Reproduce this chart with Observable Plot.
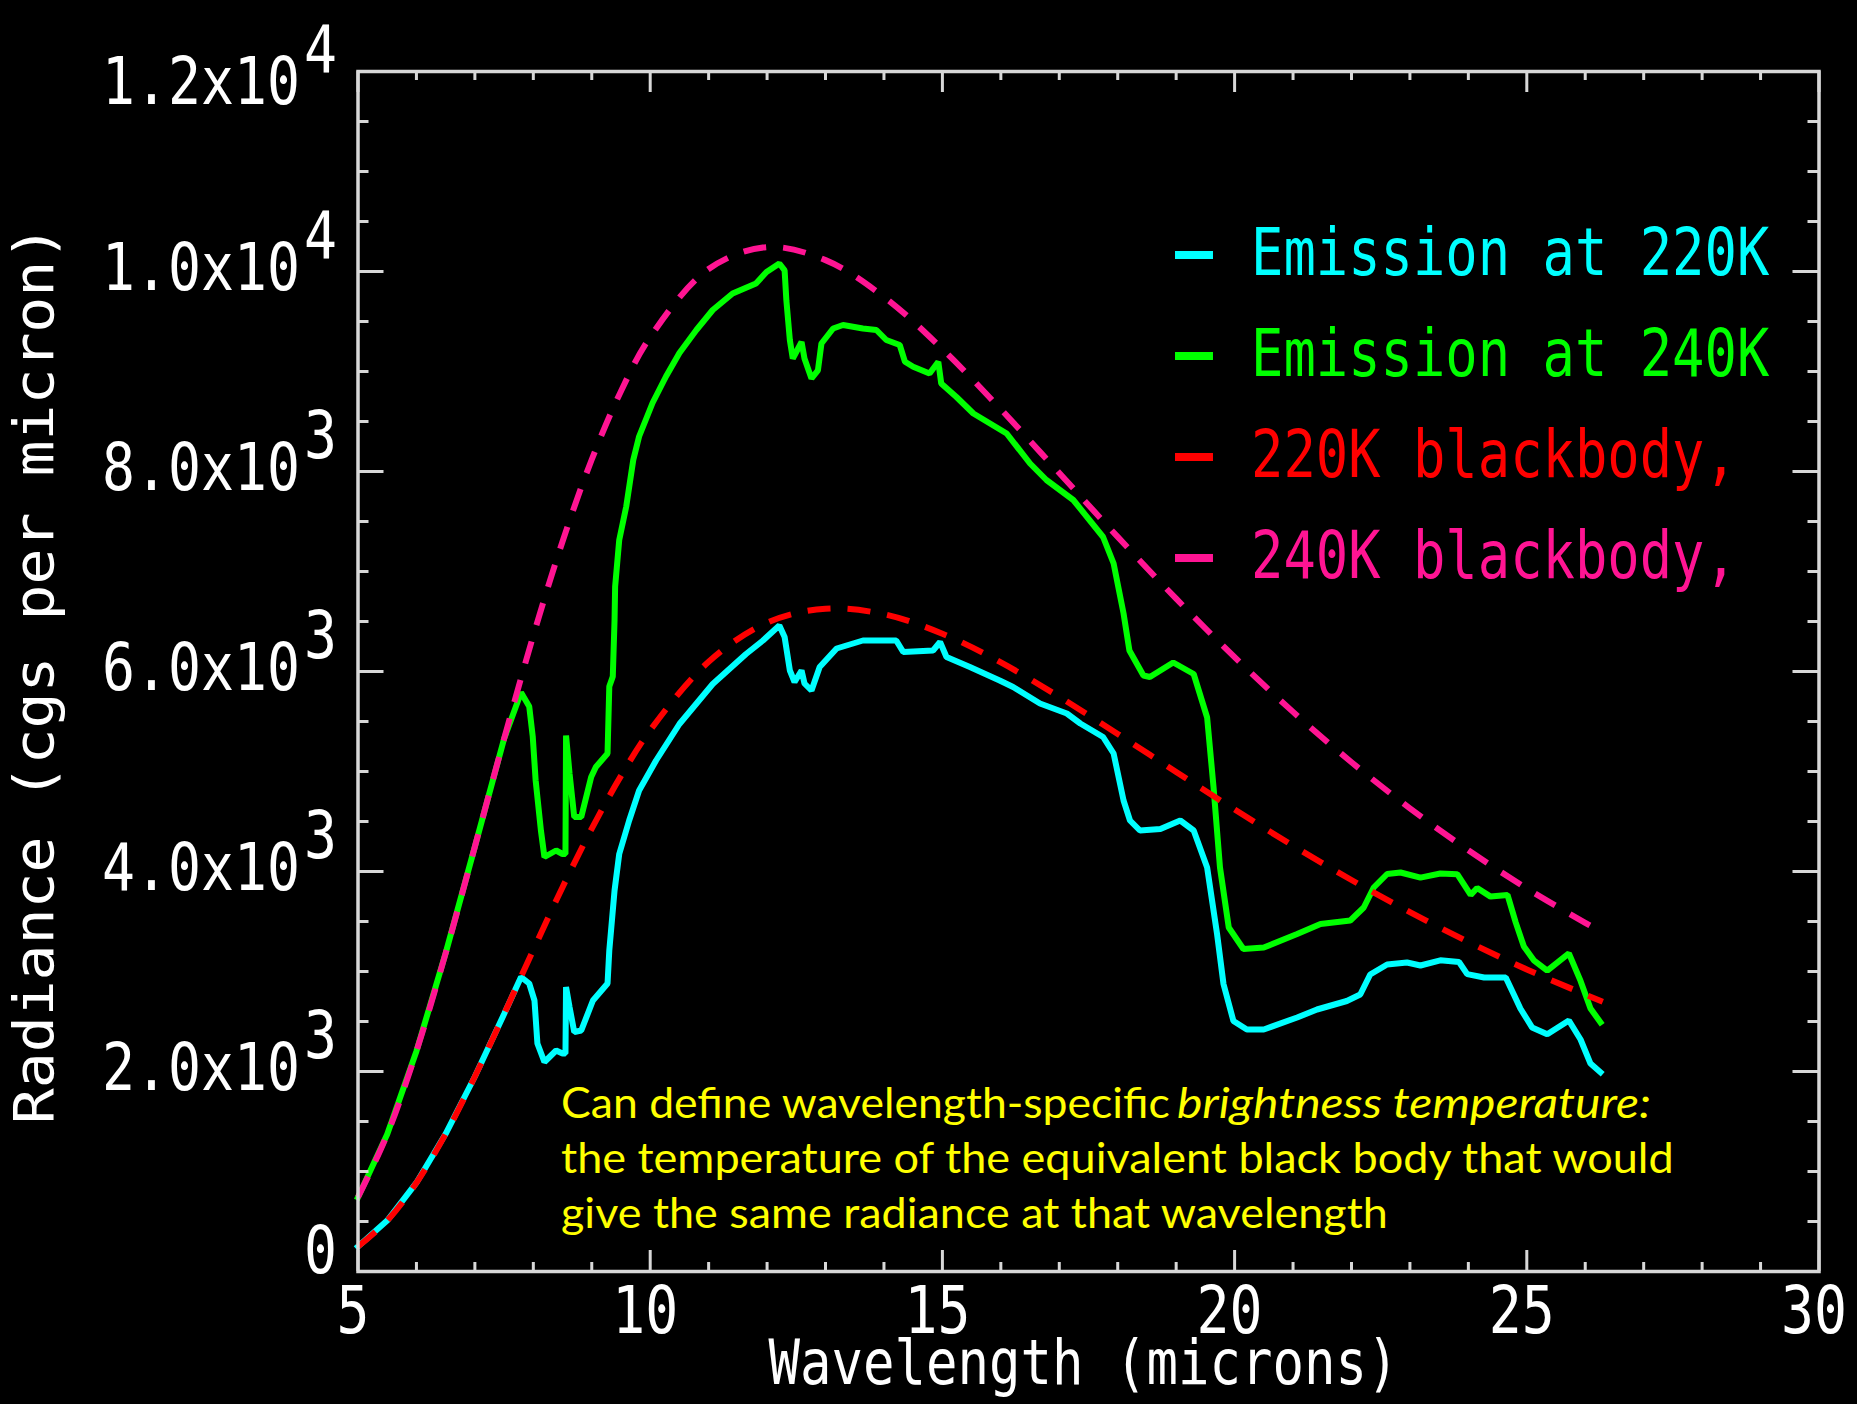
<!DOCTYPE html>
<html>
<head>
<meta charset="utf-8">
<title>Radiance vs wavelength</title>
<script src="https://cdn.jsdelivr.net/npm/d3@7"></script>
<script src="https://cdn.jsdelivr.net/npm/@observablehq/plot@0.6"></script>
<style>
  html, body { margin: 0; padding: 0; background: #000; }
  #chart { width: 1857px; height: 1404px; overflow: hidden; }
  #chart svg { display: block; }
</style>
</head>
<body>
<div id="chart"></div>
<script>
// ---------------- data ----------------
// Blackbody radiance (cgs per micron) on a wavelength grid (microns)
const bbWavelength = [5, 5.5, 6, 6.5, 7, 7.5, 8, 8.5, 9, 9.5, 10, 11, 12, 13, 14, 15, 16, 17, 18, 19, 20, 21, 22, 23, 24, 25, 26, 26.3];
const bb220K = [250, 509, 888, 1377, 1950, 2575, 3217, 3843, 4429, 4956, 5413, 6097, 6489, 6628, 6573, 6378, 6091, 5747, 5376, 4995, 4620, 4258, 3915, 3594, 3296, 3021, 2770, 2698];
const bb240K = [743, 1372, 2203, 3184, 4249, 5327, 6359, 7300, 8120, 8803, 9345, 10025, 10244, 10114, 9746, 9224, 8622, 7985, 7346, 6728, 6143, 5596, 5093, 4632, 4212, 3831, 3487, 3390];

// Emission spectrum at 220K
const em220Wavelength = [5, 5.5, 6, 6.5, 7, 7.5, 7.79, 7.93, 8.02, 8.07, 8.19, 8.39, 8.50, 8.55, 8.56, 8.62, 8.70, 8.82, 9.02, 9.27, 9.30, 9.39, 9.47, 9.64, 9.81, 10.10, 10.50, 11.07, 11.64, 11.93, 12.21, 12.30, 12.39, 12.47, 12.59, 12.64, 12.76, 12.90, 13.19, 13.64, 14.21, 14.33, 14.84, 14.96, 15.07, 15.47, 15.98, 16.21, 16.67, 17.13, 17.36, 17.75, 17.93, 18.10, 18.21, 18.38, 18.73, 19.07, 19.30, 19.53, 19.70, 19.81, 19.98, 20.21, 20.50, 21.07, 21.41, 21.92, 22.15, 22.32, 22.61, 22.95, 23.18, 23.52, 23.84, 23.98, 24.27, 24.64, 24.78, 24.89, 25.09, 25.35, 25.72, 25.92, 26.09, 26.26];
const em220K = [250, 509, 888, 1377, 1950, 2575, 2945, 2880, 2710, 2280, 2095, 2210, 2180, 2180, 2845, 2645, 2395, 2410, 2710, 2880, 3210, 3810, 4175, 4510, 4810, 5110, 5475, 5875, 6175, 6310, 6460, 6345, 6010, 5895, 6010, 5880, 5810, 6045, 6230, 6310, 6310, 6195, 6210, 6295, 6145, 6045, 5910, 5845, 5680, 5580, 5480, 5345, 5180, 4710, 4510, 4410, 4425, 4510, 4410, 4040, 3375, 2875, 2505, 2420, 2420, 2540, 2620, 2705, 2770, 2970, 3070, 3090, 3060, 3112, 3095, 2974, 2940, 2940, 2768, 2630, 2441, 2372, 2510, 2320, 2079, 1993];

// Emission spectrum at 240K
const em240Wavelength = [5, 5.5, 6, 6.5, 7, 7.5, 7.79, 7.93, 7.99, 8.04, 8.13, 8.19, 8.39, 8.50, 8.55, 8.56, 8.62, 8.70, 8.82, 8.99, 9.07, 9.27, 9.30, 9.36, 9.39, 9.40, 9.47, 9.59, 9.71, 9.81, 10.04, 10.27, 10.50, 10.79, 11.07, 11.41, 11.81, 11.99, 12.21, 12.30, 12.33, 12.39, 12.44, 12.59, 12.64, 12.76, 12.87, 12.93, 13.13, 13.30, 13.64, 13.87, 14.04, 14.27, 14.36, 14.50, 14.78, 14.93, 14.98, 15.24, 15.53, 16.10, 16.50, 16.78, 17.24, 17.75, 17.93, 18.10, 18.20, 18.44, 18.55, 18.95, 19.30, 19.53, 19.64, 19.75, 19.90, 20.15, 20.50, 21.07, 21.47, 21.98, 22.21, 22.38, 22.61, 22.84, 23.18, 23.52, 23.81, 24.04, 24.15, 24.38, 24.67, 24.81, 24.95, 25.12, 25.35, 25.72, 25.92, 26.09, 26.26];
const em240K = [743, 1372, 2203, 3184, 4249, 5327, 5790, 5650, 5350, 4910, 4410, 4145, 4210, 4175, 4175, 5360, 4980, 4545, 4545, 4945, 5045, 5180, 5850, 5950, 6515, 6850, 7315, 7650, 8115, 8350, 8685, 8950, 9185, 9415, 9615, 9780, 9880, 9995, 10080, 10012, 9712, 9312, 9130, 9295, 9130, 8930, 9012, 9280, 9430, 9465, 9430, 9415, 9315, 9265, 9097, 9047, 8980, 9097, 8880, 8745, 8580, 8380, 8080, 7915, 7715, 7345, 7080, 6580, 6210, 5960, 5945, 6090, 5975, 5540, 4840, 4040, 3440, 3225, 3240, 3375, 3475, 3510, 3640, 3840, 3975, 3990, 3939, 3980, 3973, 3766, 3835, 3749, 3766, 3491, 3250, 3112, 3009, 3181, 2906, 2630, 2492];

// Axis ticks and labels
const xTickValues = [5, 10, 15, 20, 25, 30];
const xTickLabels = ["5", "10", "15", "20", "25", "30"];
const xMinorTickValues = [6, 7, 8, 9, 11, 12, 13, 14, 16, 17, 18, 19, 21, 22, 23, 24, 26, 27, 28, 29];
const yTickValues = [0, 2000, 4000, 6000, 8000, 10000, 12000];
const yTickMantissa = ["0", "2.0x10", "4.0x10", "6.0x10", "8.0x10", "1.0x10", "1.2x10"];
const yTickExponent = ["", "3", "3", "3", "3", "4", "4"];
const yMinorTickValues = [500, 1000, 1500, 2500, 3000, 3500, 4500, 5000, 5500, 6500, 7000, 7500, 8500, 9000, 9500, 10500, 11000, 11500];

const xTitle = "Wavelength (microns)";
const yTitle = "Radiance (cgs per micron)";

// Legend entries
const seriesNames = ["Emission at 220K", "Emission at 240K", "220K blackbody,", "240K blackbody,"];
const seriesColors = ["#00ffff", "#00ff00", "#ff0000", "#ff1493"];

// Explanatory note
const noteLead = "Can define wavelength-specific";
const noteTerm = "brightness temperature:";
const noteLines = [
  "the temperature of the equivalent black body that would",
  "give the same radiance at that wavelength"
];

// ---------------- layout ----------------
const W = 1857, H = 1404;
const M = {top: 71, right: 38.5, bottom: 133, left: 357.5};
const FH = H - M.top - M.bottom;
const FW = W - M.left - M.right;

const axisStroke = "#d8d8d8";
const textColor = "#ffffff";
const noteColor = "#ffff00";
const FONT_VEC = "'DejaVu Sans Mono', 'Liberation Mono', monospace";
const FONT_NOTE = "Lato, 'Open Sans', 'Noto Sans', sans-serif";

const rows = (xs, ys) => xs.map((x, i) => ({wavelength: x, radiance: ys[i]}));
const yLabels = yTickValues.map((v, i) => ({value: v, mantissa: yTickMantissa[i], exponent: yTickExponent[i]}));
const yMax = yTickValues[yTickValues.length - 1];

const vec = {fill: textColor, fontFamily: FONT_VEC, fontSize: 66};

// tick marks inside the frame on all four sides
const tickMarks = [
  Plot.tickX(xTickValues, {x: d => d, stroke: axisStroke, strokeWidth: 3, insetTop: FH - 21}),
  Plot.tickX(xTickValues, {x: d => d, stroke: axisStroke, strokeWidth: 3, insetBottom: FH - 21}),
  Plot.tickX(xMinorTickValues, {x: d => d, stroke: axisStroke, strokeWidth: 3, insetTop: FH - 9}),
  Plot.tickX(xMinorTickValues, {x: d => d, stroke: axisStroke, strokeWidth: 3, insetBottom: FH - 9}),
  Plot.tickY(yTickValues, {y: d => d, stroke: axisStroke, strokeWidth: 3, insetRight: FW - 26}),
  Plot.tickY(yTickValues, {y: d => d, stroke: axisStroke, strokeWidth: 3, insetLeft: FW - 26}),
  Plot.tickY(yMinorTickValues, {y: d => d, stroke: axisStroke, strokeWidth: 3, insetRight: FW - 11}),
  Plot.tickY(yMinorTickValues, {y: d => d, stroke: axisStroke, strokeWidth: 3, insetLeft: FW - 11})
];

// y tick labels: mantissa and raised exponent; end labels are nudged inward
const yLabelMarks = [
  Plot.text(yLabels, {filter: d => d.value > 0 && d.value < yMax, y: "value", text: "mantissa",
    frameAnchor: "left", textAnchor: "end", lineAnchor: "bottom", dx: -58, dy: 18, className: "vec-tick", ...vec}),
  Plot.text(yLabels, {filter: d => d.value === yMax, y: "value", text: "mantissa",
    frameAnchor: "left", textAnchor: "end", lineAnchor: "bottom", dx: -58, dy: 32, className: "vec-tick", ...vec}),
  Plot.text(yLabels, {filter: d => d.value > 0 && d.value < yMax, y: "value", text: "exponent",
    frameAnchor: "left", textAnchor: "start", lineAnchor: "bottom", dx: -54, dy: -14, className: "vec-tick", ...vec}),
  Plot.text(yLabels, {filter: d => d.value === yMax, y: "value", text: "exponent",
    frameAnchor: "left", textAnchor: "start", lineAnchor: "bottom", dx: -54, dy: 0, className: "vec-tick", ...vec}),
  Plot.text(yLabels, {filter: d => d.value === 0, y: "value", text: "mantissa",
    frameAnchor: "left", textAnchor: "end", lineAnchor: "bottom", dx: -21, dy: 1, className: "vec-tick", ...vec})
];

const xLabelMarks = [
  Plot.text(xTickValues, {x: d => d, text: (d, i) => xTickLabels[i], frameAnchor: "bottom",
    lineAnchor: "bottom", dx: -5, dy: 61, className: "vec-tick", ...vec})
];

const titleMarks = [
  Plot.text([xTitle], {text: d => d, frameAnchor: "bottom", textAnchor: "middle", lineAnchor: "bottom", dx: -5, dy: 112,
    className: "vec-xtitle", ...vec, fontSize: 62}),
  Plot.text([yTitle], {text: d => d, frameAnchor: "left", textAnchor: "middle", rotate: -90, lineAnchor: "bottom", dx: -305, dy: 3,
    className: "vec-ytitle", ...vec, fontSize: 56})
];

// legend inside the plot area, upper right
const legendMarks = seriesNames.flatMap((name, i) => [
  Plot.text(["\u2014"], {text: d => d, frameAnchor: "top-left", textAnchor: "start", lineAnchor: "bottom",
    dx: 817, dy: 201 + 101 * i, fill: seriesColors[i], fontFamily: FONT_VEC, fontSize: 66, fontWeight: "bold",
    className: "vec-dash"}),
  Plot.text([name], {text: d => d, frameAnchor: "top-left", textAnchor: "start", lineAnchor: "bottom",
    dx: 893, dy: 203 + 101 * i, fill: seriesColors[i], fontFamily: FONT_VEC, fontSize: 66,
    className: "vec-legend"})
]);

// explanatory note in the lower part of the plot
const noteStyle = {text: d => d, frameAnchor: "top-left", textAnchor: "start", lineAnchor: "bottom",
  fill: noteColor, fontFamily: FONT_NOTE, fontSize: 43};
const noteMarks = [
  Plot.text([noteLead], {...noteStyle, dx: 203, dy: 1046, className: "note-lead"}),
  Plot.text([noteTerm], {...noteStyle, dx: 819, dy: 1046, fontStyle: "italic", className: "note-term"}),
  Plot.text([noteLines[0]], {...noteStyle, dx: 203, dy: 1101, className: "note-line2"}),
  Plot.text([noteLines[1]], {...noteStyle, dx: 203, dy: 1156, className: "note-line3"})
];

const chart = Plot.plot({
  width: W,
  height: H,
  marginTop: M.top,
  marginRight: M.right,
  marginBottom: M.bottom,
  marginLeft: M.left,
  style: {background: "#000", color: textColor, overflow: "visible"},
  x: {domain: [5, 30], axis: null},
  y: {domain: [0, 12000], axis: null},
  marks: [
    Plot.line(rows(em220Wavelength, em220K), {x: "wavelength", y: "radiance", stroke: "#00ffff", strokeWidth: 6, strokeLinejoin: "miter", strokeLinecap: "square"}),
    Plot.line(rows(em240Wavelength, em240K), {x: "wavelength", y: "radiance", stroke: "#00ff00", strokeWidth: 6, strokeLinejoin: "miter", strokeLinecap: "square"}),
    Plot.line(rows(bbWavelength, bb220K), {x: "wavelength", y: "radiance", stroke: "#ff0000", strokeWidth: 6, curve: "catmull-rom", strokeDasharray: "23,17", strokeLinecap: "butt"}),
    Plot.line(rows(bbWavelength, bb240K), {x: "wavelength", y: "radiance", stroke: "#ff1493", strokeWidth: 6, curve: "catmull-rom", strokeDasharray: "23,17", strokeLinecap: "butt"}),
    ...tickMarks,
    Plot.frame({stroke: axisStroke, strokeWidth: 3.5}),
    ...yLabelMarks,
    ...xLabelMarks,
    ...titleMarks,
    ...legendMarks,
    ...noteMarks
  ]
});

document.getElementById("chart").append(chart);

// Narrow the lettering to a set advance width while keeping its height:
// the font size is reduced until the natural width fits, then the glyphs
// are stretched back vertically about the baseline.
const fitText = (cls, lengthOf) => {
  chart.querySelectorAll(`.${cls} text`).forEach(t => {
    const natural = t.getComputedTextLength();
    if (!natural) return;
    const size = parseFloat(getComputedStyle(t).fontSize);
    const k = lengthOf(t.textContent) / natural;
    t.style.fontSize = `${size * k}px`;
    const tr = t.getAttribute("transform") || "";
    t.setAttribute("transform", `${tr} scale(1,${1 / k})`.trim());
  });
};
fitText("vec-tick", s => s.length * 33);
fitText("vec-legend", s => s.length * 32.4);
fitText("vec-dash", () => 38);
fitText("vec-xtitle", s => s.length * 31.5);
fitText("vec-ytitle", s => s.length * 36);
fitText("note-lead", () => 609);
fitText("note-term", () => 474);
fitText("note-line2", () => 1113);
fitText("note-line3", () => 827);
</script>
</body>
</html>
